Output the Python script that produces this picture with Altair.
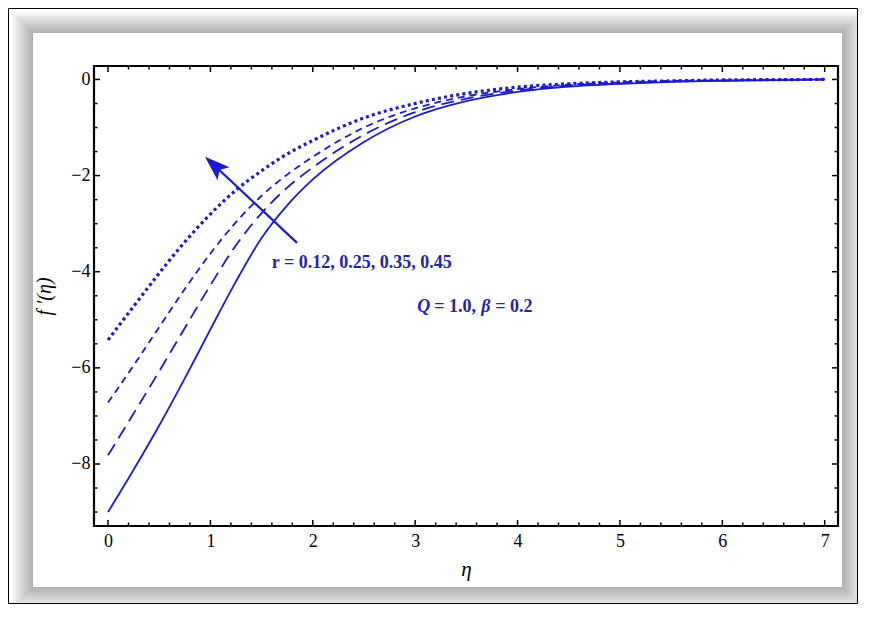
import altair as alt
import pandas as pd

# ---- data ----
eta = [0, 0.25, 0.5, 0.75, 1.0, 1.25, 1.5, 1.75, 2.0, 2.5, 3.0, 3.5, 4.0, 4.5, 5.0, 5.5, 6.0, 7.0]
f_r012 = [-9.0, -8.12, -7.2, -6.22, -5.2, -4.2, -3.3, -2.62, -2.08, -1.3, -0.77, -0.45, -0.26, -0.15, -0.09, -0.05, -0.03, 0.0]
f_r025 = [-7.82, -6.95, -6.07, -5.17, -4.28, -3.45, -2.78, -2.25, -1.83, -1.15, -0.68, -0.4, -0.23, -0.13, -0.08, -0.04, -0.02, 0.0]
f_r035 = [-6.72, -5.95, -5.15, -4.36, -3.62, -2.97, -2.42, -1.98, -1.61, -1.0, -0.6, -0.35, -0.2, -0.11, -0.06, -0.03, -0.02, 0.0]
f_r045 = [-5.42, -4.72, -4.03, -3.38, -2.8, -2.3, -1.9, -1.55, -1.27, -0.8, -0.5, -0.29, -0.16, -0.09, -0.05, -0.03, -0.01, 0.0]

x_major = [0, 1, 2, 3, 4, 5, 6, 7]
x_minor = [round(i * 0.2, 1) for i in range(0, 36) if i % 5 != 0]
y_major = [0, -2, -4, -6, -8]
y_minor = [-0.5 * i for i in range(1, 19) if i % 4 != 0]

r_label = "r = 0.12, 0.25, 0.35, 0.45"
q_pieces = ["Q", "= 1.0,", "β", "= 0.2"]

# ---- layout ----
W, H = 744, 460
BLUE = "#1a1ad2"
TBLUE = "#2323aa"
FONT = "Liberation Serif"

xs = alt.Scale(domain=[-0.137, 7.13], nice=False, zero=False)
ys = alt.Scale(domain=[-9.29, 0.28], nice=False, zero=False)

ax_x = alt.Axis(title="η", values=x_major, format="d", labelFont=FONT, labelFontSize=18,
                labelColor="black", labelPadding=6, ticks=False, tickSize=0, domain=False,
                grid=False, titleFont=FONT, titleFontStyle="italic", titleFontWeight="normal",
                titleFontSize=21, titleColor="black", titlePadding=8, zindex=1)
ax_y = alt.Axis(title="f ′(η)", values=y_major, format="d", labelFont=FONT, labelFontSize=18,
                labelColor="black", labelPadding=4, ticks=False, tickSize=0, domain=False,
                grid=False, titleFont=FONT, titleFontStyle="italic", titleFontWeight="normal",
                titleFontSize=20, titleColor="black", titlePadding=16, zindex=1)

one = pd.DataFrame({"k": [0]})
layers = []

# shadow + white panel (decoration, pixel coords relative to plot area)
PX0, PY0, PX1, PY1 = -61, -33, 748, 521
for i in range(11):
    e = 1 + 2 * i
    layers.append(alt.Chart(one).mark_rect(color="black", opacity=0.03).encode(
        x=alt.value(PX0 - e), x2=alt.value(PX1 + e), y=alt.value(PY0 - e), y2=alt.value(PY1 + e)))
layers.append(alt.Chart(one).mark_rect(color="white").encode(
    x=alt.value(PX0), x2=alt.value(PX1), y=alt.value(PY0), y2=alt.value(PY1)))
layers.append(alt.Chart(one).mark_rect(filled=False, stroke="black", strokeWidth=1).encode(
    x=alt.value(-85.5), x2=alt.value(763.5), y=alt.value(-57.5), y2=alt.value(537.5)))

# curves
styles = [
    (f_r012, None, 1.8),
    (f_r025, [13, 7], 1.8),
    (f_r035, [7, 5], 1.8),
    (f_r045, [3, 3.2], 3.2),
]
for idx, (vals, dash, sw) in enumerate(styles):
    df = pd.DataFrame({"eta": eta, "f": vals})
    kw = dict(color=BLUE, strokeWidth=sw, interpolate="monotone")
    if dash:
        kw["strokeDash"] = dash
    layers.append(alt.Chart(df).mark_line(**kw).encode(
        x=alt.X("eta:Q", scale=xs, axis=ax_x),
        y=alt.Y("f:Q", scale=ys, axis=ax_y)))

# frame
layers.append(alt.Chart(one).mark_rect(filled=False, stroke="black", strokeWidth=2.2).encode(
    x=alt.value(0), x2=alt.value(W), y=alt.value(0), y2=alt.value(H)))

# inward ticks on all four sides
def xticks(vals, ln):
    d = pd.DataFrame({"eta": vals})
    b = alt.Chart(d).mark_rule(color="black", strokeWidth=1.5).encode(
        x=alt.X("eta:Q", scale=xs), y=alt.value(H), y2=alt.value(H - ln))
    t = alt.Chart(d).mark_rule(color="black", strokeWidth=1.5).encode(
        x=alt.X("eta:Q", scale=xs), y=alt.value(0), y2=alt.value(ln))
    return [b, t]

def yticks(vals, ln):
    d = pd.DataFrame({"f": vals})
    l = alt.Chart(d).mark_rule(color="black", strokeWidth=1.5).encode(
        y=alt.Y("f:Q", scale=ys), x=alt.value(0), x2=alt.value(ln))
    r = alt.Chart(d).mark_rule(color="black", strokeWidth=1.5).encode(
        y=alt.Y("f:Q", scale=ys), x=alt.value(W), x2=alt.value(W - ln))
    return [l, r]

layers += xticks(x_major, 6) + xticks(x_minor, 3.5) + yticks(y_major, 6) + yticks(y_minor, 3.5)

# arrow
shaft = pd.DataFrame({"eta": [1.846, 1.045], "f": [-3.40, -1.80]})
layers.append(alt.Chart(shaft).mark_line(color=BLUE, strokeWidth=2.2).encode(
    x=alt.X("eta:Q", scale=xs), y=alt.Y("f:Q", scale=ys)))
head = pd.DataFrame({"eta": [1.045], "f": [-1.80]})
layers.append(alt.Chart(head).mark_point(
    shape="M0,-1L0.65,0.85L0,0.45L-0.65,0.85Z", filled=True, size=740, angle=312.6,
    color=BLUE, opacity=1).encode(x=alt.X("eta:Q", scale=xs), y=alt.Y("f:Q", scale=ys)))

# annotations
rdf = pd.DataFrame({"eta": [1.60], "f": [-3.82], "t": [r_label]})
layers.append(alt.Chart(rdf).mark_text(font=FONT, fontSize=18, fontWeight="bold", color=TBLUE,
                                       align="left", baseline="middle").encode(
    x=alt.X("eta:Q", scale=xs), y=alt.Y("f:Q", scale=ys), text="t:N"))

q_dx = [0, 17, 64, 78]
q_style = ["italic", "normal", "italic", "normal"]
for txt, dx, st in zip(q_pieces, q_dx, q_style):
    qdf = pd.DataFrame({"eta": [3.02], "f": [-4.74], "t": [txt]})
    layers.append(alt.Chart(qdf).mark_text(font=FONT, fontSize=18, fontWeight="bold",
                                           fontStyle=st, color=TBLUE, align="left",
                                           baseline="middle", dx=dx).encode(
        x=alt.X("eta:Q", scale=xs), y=alt.Y("f:Q", scale=ys), text="t:N"))

chart = alt.layer(*layers).properties(
    width=W, height=H,
    autosize=alt.AutoSizeParams(type="none"),
    padding={"left": 86, "top": 58, "right": 20, "bottom": 78},
    background="white",
).configure_view(stroke=None)

chart.save("out.html", embed_options={"renderer": "svg", "actions": False})
